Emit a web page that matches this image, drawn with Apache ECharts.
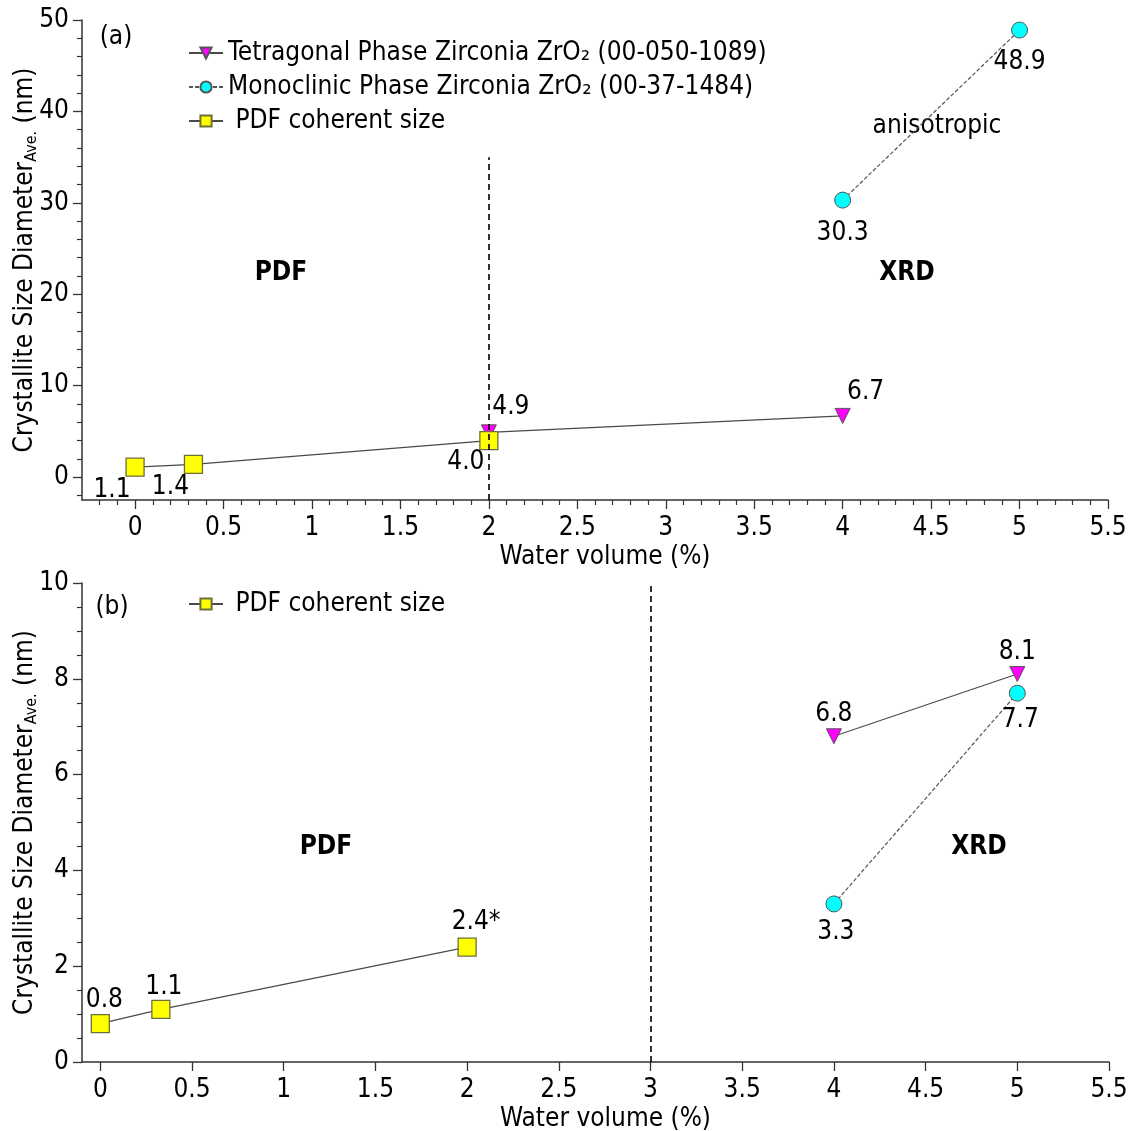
<!DOCTYPE html>
<html>
<head>
<meta charset="utf-8">
<script src="https://cdn.jsdelivr.net/npm/echarts@6/dist/echarts.min.js"></script>
<style>
html,body{margin:0;padding:0;background:#fff;}
#chart{width:1134px;height:1131px;}
</style>
</head>
<body>
<div id="chart"></div>
<script>
// ---------- data ----------
// Panel (a)
const pdfXa = [0, 0.33, 2];
const pdfYa = [1.1, 1.4, 4.0];
const pdfLabelsA = ['1.1', '1.4', '4.0'];
const tetXa = [2, 4];
const tetYa = [4.9, 6.7];
const tetLabelsA = ['4.9', '6.7'];
const monoXa = [4, 5];
const monoYa = [30.3, 48.9];
const monoLabelsA = ['30.3', '48.9'];
// Panel (b)
const pdfXb = [0, 0.33, 2];
const pdfYb = [0.8, 1.1, 2.4];
const pdfLabelsB = ['0.8', '1.1', '2.4*'];
const tetXb = [4, 5];
const tetYb = [6.8, 8.1];
const tetLabelsB = ['6.8', '8.1'];
const monoXb = [4, 5];
const monoYb = [3.3, 7.7];
const monoLabelsB = ['3.3', '7.7'];
// tick labels
const xTicks = [0, 0.5, 1, 1.5, 2, 2.5, 3, 3.5, 4, 4.5, 5, 5.5];
const yTicksA = [0, 10, 20, 30, 40, 50];
const yTicksB = [0, 2, 4, 6, 8, 10];
const seriesNames = ['Tetragonal Phase Zirconia ZrO\u2082 (00-050-1089)', 'Monoclinic Phase Zirconia ZrO\u2082 (00-37-1484)', ' PDF coherent size'];

// minor tick positions
const xMinorA = [];
for (let i = -2; i <= 55; i++) { if (i % 5 !== 0) xMinorA.push(i / 10); }
const yMinorA = [];
for (let v = -2; v <= 50; v += 2) { if (v % 10 !== 0) yMinorA.push(v); }

// ---------- styles ----------
const FONT = '"DejaVu Sans Condensed","DejaVu Sans",sans-serif';
const FS = 26;
const axisColor = '#333';
const lineColor = '#4a4a4a';

function pts(xs, ys, labels, offsets) {
  return xs.map((x, i) => ({
    value: [x, ys[i]],
    label: { formatter: labels[i], offset: offsets[i] }
  }));
}
const lblBase = { show: true, position: 'inside', align: 'center', verticalAlign: 'middle', color: '#000', fontSize: FS, fontFamily: FONT };

const tetStyle = { symbol: 'triangle', symbolRotate: 180, symbolSize: 15, itemStyle: { color: '#ff00ff', borderColor: '#555', borderWidth: 1 }, lineStyle: { color: lineColor, width: 1.2, type: 'solid' } };
const monoStyle = { symbol: 'circle', symbolSize: 16, itemStyle: { color: '#00ffff', borderColor: '#555', borderWidth: 1 }, lineStyle: { color: '#555', width: 1.2, type: [4, 2] } };
const pdfStyle = { symbol: 'rect', symbolSize: 18, itemStyle: { color: '#ffff00', borderColor: '#6e6e3a', borderWidth: 1.3 }, lineStyle: { color: lineColor, width: 1.2, type: 'solid' } };

function mainX(grid, min, name) {
  return {
    gridIndex: grid, type: 'value', min: min, max: 5.5, position: 'bottom',
    axisLine: { show: true, onZero: false, lineStyle: { color: axisColor, width: 1.5 } },
    axisTick: { show: true, customValues: xTicks, length: 9, lineStyle: { color: axisColor, width: 1.3 } },
    axisLabel: { customValues: xTicks, formatter: v => String(v), margin: 15, color: '#000', fontSize: FS, fontFamily: FONT },
    splitLine: { show: false },
    name: name, nameLocation: 'middle', nameGap: 44,
    nameTextStyle: { color: '#000', fontSize: FS, fontFamily: FONT, padding: [0, 0, 0, 20] }
  };
}
const yNameStyle = {
  color: '#000', fontFamily: FONT,
  rich: {
    a: { fontSize: FS, fontFamily: FONT, color: '#000', lineHeight: 30 },
    s: { fontSize: 16, fontFamily: FONT, color: '#000', lineHeight: 12, verticalAlign: 'bottom' }
  }
};
function mainY(grid, min, max, ticks) {
  return {
    gridIndex: grid, type: 'value', min: min, max: max, position: 'left',
    axisLine: { show: true, onZero: false, lineStyle: { color: axisColor, width: 1.5 } },
    axisTick: { show: true, customValues: ticks, length: 9, lineStyle: { color: axisColor, width: 1.3 } },
    axisLabel: { customValues: ticks, formatter: v => String(v), margin: 13, color: '#000', fontSize: FS, fontFamily: FONT },
    splitLine: { show: false },
    name: '{a|Crystallite Size Diameter}{s|Ave.}{a| (nm)}', nameLocation: 'middle', nameGap: 42, nameRotate: 90,
    nameMoveOverlap: false,
    nameTextStyle: yNameStyle
  };
}
function minorAxis(grid, min, max, ticks, pos) {
  return {
    gridIndex: grid, type: 'value', min: min, max: max, position: pos,
    axisLine: { show: false, onZero: false },
    axisTick: { show: true, customValues: ticks, length: 5, lineStyle: { color: axisColor, width: 1.2 } },
    axisLabel: { show: false },
    splitLine: { show: false }
  };
}

const yAxB = mainY(1, 0, 10, yTicksB);
yAxB.minorTick = { show: true, splitNumber: 4, length: 5, lineStyle: { color: axisColor, width: 1.2 } };
delete yAxB.axisTick.customValues;
delete yAxB.axisLabel.customValues;
yAxB.interval = 2;

const dashed = { color: '#000', width: 1.6, type: [6, 4] };
const legendText = { color: '#000', fontSize: FS, fontFamily: FONT, lineHeight: 24 };

const option = {
  animation: false,
  backgroundColor: '#fff',
  textStyle: { fontFamily: FONT },
  grid: [
    { left: 82, top: 20, width: 1026, height: 480, containLabel: false, outerBoundsMode: 'none' },
    { left: 82, top: 583, width: 1027, height: 479, containLabel: false, outerBoundsMode: 'none' }
  ],
  xAxis: [
    mainX(0, -0.3, 'Water volume (%)'),
    minorAxis(0, -0.3, 5.5, xMinorA, 'bottom'),
    mainX(1, -0.1, 'Water volume (%)')
  ],
  yAxis: [
    mainY(0, -2.5, 50, yTicksA),
    minorAxis(0, -2.5, 50, yMinorA, 'left'),
    yAxB
  ],
  legend: [
    {
      orient: 'vertical', left: 183, top: 35, itemWidth: 34, itemHeight: 14, itemGap: 8,
      data: seriesNames, textStyle: legendText, selectedMode: false
    },
    {
      orient: 'vertical', left: 183, top: 586, itemWidth: 34, itemHeight: 14, itemGap: 8,
      data: [seriesNames[2]], textStyle: legendText, selectedMode: false
    }
  ],
  series: [
    Object.assign({
      name: seriesNames[0], type: 'line', xAxisIndex: 0, yAxisIndex: 0, z: 3,
      data: pts(tetXa, tetYa, tetLabelsA, [[22, -25], [23, -24]]),
      label: lblBase
    }, tetStyle),
    Object.assign({
      name: seriesNames[1], type: 'line', xAxisIndex: 0, yAxisIndex: 0, z: 3,
      data: pts(monoXa, monoYa, monoLabelsA, [[0, 33], [0, 32]]),
      label: lblBase
    }, monoStyle),
    Object.assign({
      name: seriesNames[2], type: 'line', xAxisIndex: 0, yAxisIndex: 0, z: 4,
      data: pts(pdfXa, pdfYa, pdfLabelsA, [[-23, 23], [-23, 23], [-23, 22]]),
      label: lblBase,
      markLine: {
        silent: true, symbol: 'none', label: { show: false }, lineStyle: dashed, z: 10,
        data: [[{ coord: [2, -2.5] }, { coord: [2, 35] }]]
      }
    }, pdfStyle),
    Object.assign({
      name: seriesNames[0], type: 'line', xAxisIndex: 2, yAxisIndex: 2, z: 3,
      data: pts(tetXb, tetYb, tetLabelsB, [[0, -22], [0, -22]]),
      label: lblBase
    }, tetStyle),
    Object.assign({
      name: seriesNames[1], type: 'line', xAxisIndex: 2, yAxisIndex: 2, z: 3,
      data: pts(monoXb, monoYb, monoLabelsB, [[2, 28], [3, 27]]),
      label: lblBase
    }, monoStyle),
    Object.assign({
      name: seriesNames[2], type: 'line', xAxisIndex: 2, yAxisIndex: 2, z: 4,
      data: pts(pdfXb, pdfYb, pdfLabelsB, [[4, -23], [3, -22], [9, -25]]),
      label: lblBase,
      markLine: {
        silent: true, symbol: 'none', label: { show: false }, lineStyle: dashed,
        data: [[{ coord: [3, 0] }, { coord: [3, 10] }]]
      }
    }, pdfStyle)
  ],
  graphic: [
    { type: 'text', x: 116, y: 37, style: { text: '(a)', font: FS + 'px ' + FONT, fill: '#000', align: 'center', verticalAlign: 'middle' } },
    { type: 'text', x: 112, y: 607, style: { text: '(b)', font: FS + 'px ' + FONT, fill: '#000', align: 'center', verticalAlign: 'middle' } },
    { type: 'text', x: 281, y: 273, style: { text: 'PDF', font: 'bold ' + FS + 'px ' + FONT, fill: '#000', align: 'center', verticalAlign: 'middle' } },
    { type: 'text', x: 907, y: 273, style: { text: 'XRD', font: 'bold ' + FS + 'px ' + FONT, fill: '#000', align: 'center', verticalAlign: 'middle' } },
    { type: 'text', x: 937, y: 126, style: { text: 'anisotropic', font: FS + 'px ' + FONT, fill: '#000', align: 'center', verticalAlign: 'middle' } },
    { type: 'text', x: 326, y: 847, style: { text: 'PDF', font: 'bold ' + FS + 'px ' + FONT, fill: '#000', align: 'center', verticalAlign: 'middle' } },
    { type: 'text', x: 979, y: 847, style: { text: 'XRD', font: 'bold ' + FS + 'px ' + FONT, fill: '#000', align: 'center', verticalAlign: 'middle' } }
  ]
};

const chart = echarts.init(document.getElementById('chart'), null, { renderer: 'canvas' });
chart.setOption(option);
</script>
</body>
</html>
